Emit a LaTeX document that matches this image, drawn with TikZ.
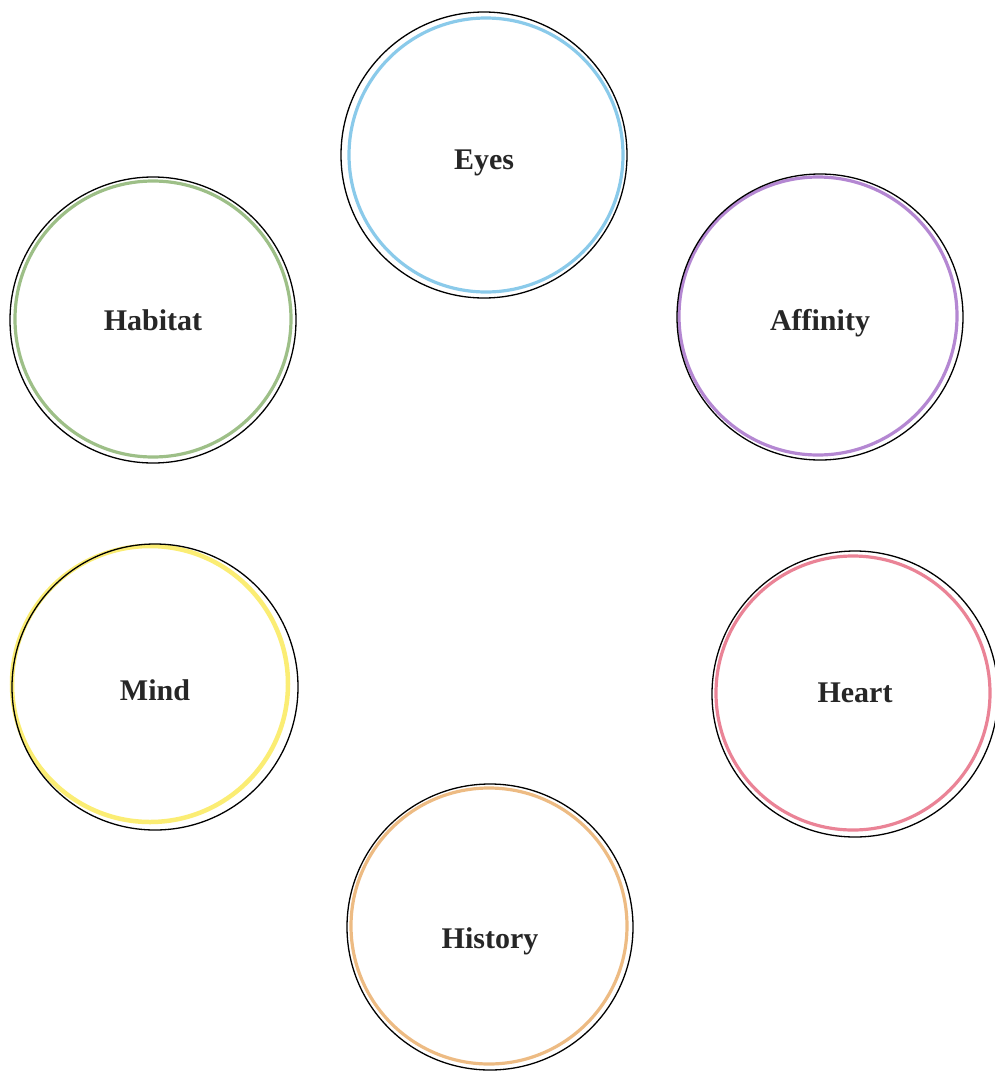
\documentclass[tikz,border=0pt]{standalone}
\usepackage{fontspec}
\setmainfont{Liberation Serif}
\definecolor{ceyes}{RGB}{100,185,228}
\definecolor{chab}{RGB}{125,170,95}
\definecolor{caff}{RGB}{155,95,195}
\definecolor{cmind}{RGB}{250,232,70}
\definecolor{cheart}{RGB}{228,90,115}
\definecolor{chist}{RGB}{232,165,90}
\begin{document}
\begin{tikzpicture}[x=1pt,y=-1pt,
  ring/.style={circle,draw=black,line width=1.3pt,minimum size=286pt,inner sep=0pt},
  lbl/.style={font=\fontsize{30}{32}\selectfont\bfseries,text=black!85,inner sep=0pt},
  pencil/.style={line width=3.2pt,opacity=0.75}]
\useasboundingbox (0,0) rectangle (995,1071);
\fill[white] (0,0) rectangle (995,1071);
% coloured pencil rings
\draw[pencil,ceyes] (486,155) circle (137);
\draw[pencil,chab] (153,319) circle (138);
\draw[pencil,caff] (818,316) circle (139);
\draw[pencil,cmind,line width=4.5pt] (150,684) circle (138);
\draw[pencil,cheart] (853,693) circle (137);
\draw[pencil,chist] (489,926) circle (138);
% outlined nodes
\node[ring,label={[lbl,yshift=-8pt]center:Eyes}] (eyes) at (484,155) {};
\node[ring,label={[lbl,yshift=0pt]center:Habitat}] (habitat) at (153,320) {};
\node[ring,label={[lbl,yshift=-6pt]center:Affinity}] (affinity) at (820,317) {};
\node[ring,label={[lbl,yshift=-3pt]center:Mind}] (mind) at (155,687) {};
\node[ring,label={[lbl,yshift=1pt]center:Heart}] (heart) at (855,694) {};
\node[ring,label={[lbl,yshift=-14pt]center:History}] (history) at (490,927) {};
\end{tikzpicture}
\end{document}
